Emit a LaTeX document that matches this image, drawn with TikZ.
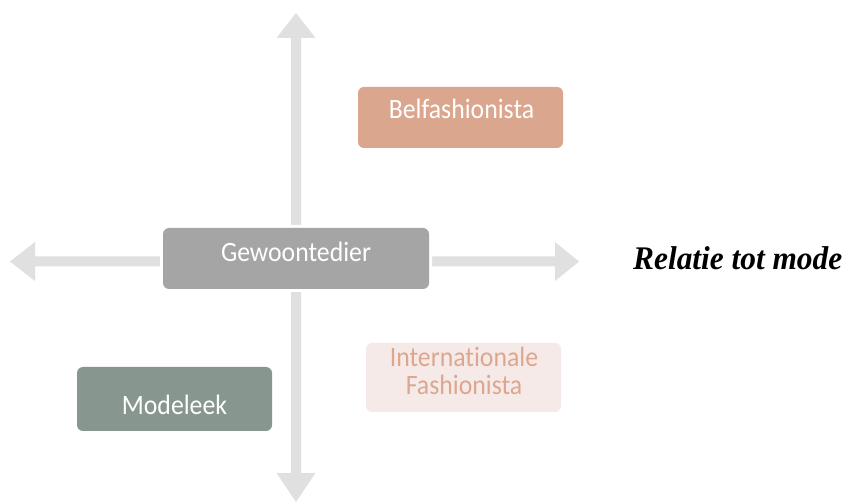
\documentclass[tikz,border=0pt]{standalone}
\usepackage{fontspec}
\setmainfont{Carlito}
\newfontfamily\boxfont[FakeStretch=0.92,Ligatures={NoCommon,NoRare}]{Carlito}
\newfontfamily\axisfont[FakeStretch=0.95]{Liberation Serif}
\definecolor{axisgray}{RGB}{224,224,224}
\definecolor{belc}{RGB}{219,166,142}
\definecolor{gewc}{RGB}{165,165,165}
\definecolor{modc}{RGB}{135,151,143}
\definecolor{intfill}{RGB}{245,234,232}
\definecolor{inttext}{RGB}{221,167,143}
\begin{document}
\begin{tikzpicture}[x=1pt,y=-1pt,
  axisc/.style={fill=axisgray},
  qbox/.style={rounded corners=6pt, inner sep=0pt, preaction={draw=white,line width=6pt}},
  btext/.style={font=\boxfont\fontsize{28}{28}\selectfont, text=white, anchor=base, inner sep=0pt}]
\useasboundingbox[fill=white] (0,0) rectangle (849,502);
% axes
\coordinate (vtop) at (296,13);
\coordinate (vbot) at (296,502);
\coordinate (hleft) at (10,261.5);
\coordinate (hright) at (579,261.5);
\fill[axisc] (vtop) -- ++(19.5,25) -- ++(-14.5,0) -- ++(0,435) -- ++(14.5,0) -- (vbot)
  -- ++(-19.5,-29) -- ++(14.5,0) -- ++(0,-435) -- ++(-14.5,0) -- cycle;
\fill[axisc] (hleft) -- ++(25,-19.5) -- ++(0,14.5) -- ++(520,0) -- ++(0,-14.5) -- (hright)
  -- ++(-24,19.5) -- ++(0,-14.5) -- ++(-520,0) -- ++(0,14.5) -- cycle;
% boxes
\node[qbox, fill=belc, minimum width=205pt, minimum height=61pt] (bel) at (460.5,117.5) {};
\node[btext] (belt) at (461.5,119) {Belfashionista};
\node[qbox, fill=gewc, minimum width=266pt, minimum height=61pt] (gew) at (296,258.5) {};
\node[btext] (gewt) at (296,262) {Gewoontedier};
\node[qbox, fill=modc, minimum width=195pt, minimum height=64pt] (mod) at (174.5,399) {};
\node[btext] (modt) at (174.5,415) {Modeleek};
\node[qbox, fill=intfill, minimum width=195pt, minimum height=69pt] (int) at (463.5,377.5) {};
\node[btext, text=inttext] (intt1) at (464,367) {Internationale};
\node[btext, text=inttext] (intt2) at (464,395) {Fashionista};
% axis label
\node[anchor=base west, inner sep=0pt, font=\axisfont\bfseries\itshape\fontsize{33}{33}\selectfont] (rel) at (633,270) {Relatie tot mode};
\end{tikzpicture}
\end{document}
